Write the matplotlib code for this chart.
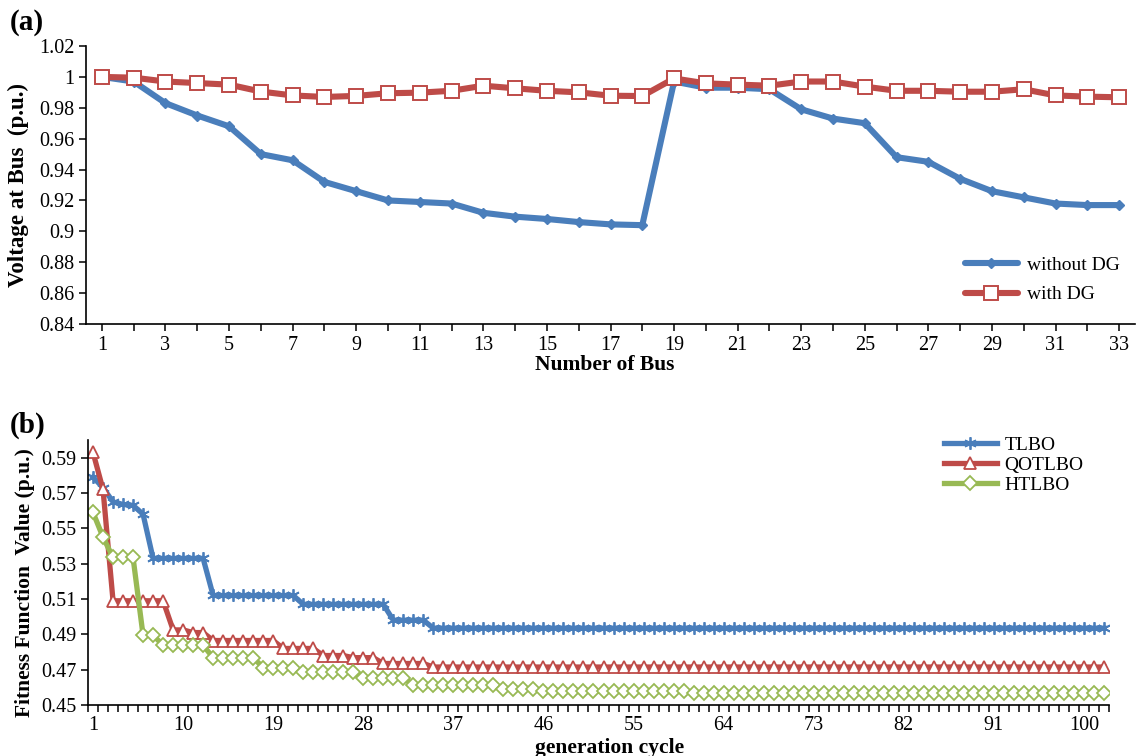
import matplotlib
matplotlib.use('Agg')
import matplotlib.pyplot as plt
from matplotlib.ticker import FuncFormatter, FixedLocator

plt.rcParams['font.family'] = ['Liberation Serif', 'DejaVu Serif']

# ---- panel (a) data ----
bus = list(range(1, 34))
without_dg = [1.000, 0.997, 0.983, 0.975, 0.968, 0.950, 0.946, 0.932, 0.926, 0.920,
              0.919, 0.918, 0.912, 0.9095, 0.908, 0.906, 0.9045, 0.904,
              0.997, 0.993, 0.993, 0.992,
              0.979, 0.973, 0.970, 0.948, 0.945, 0.934, 0.926, 0.922, 0.918, 0.917, 0.917]
with_dg = [1.000, 0.9995, 0.997, 0.996, 0.995, 0.9905, 0.988, 0.987, 0.9877, 0.9894,
           0.9898, 0.991, 0.9943, 0.9926, 0.991, 0.990, 0.9878, 0.9876,
           0.999, 0.9958, 0.995, 0.9943,
           0.997, 0.997, 0.9937, 0.991, 0.991, 0.9904, 0.9904, 0.992, 0.988, 0.9872, 0.9868]

# ---- panel (b) data ----
gen = list(range(1, 103))
tlbo = [0.579, 0.573, 0.565, 0.5635, 0.563, 0.558,
        0.533, 0.533, 0.533, 0.533, 0.533, 0.533,
        0.512, 0.512, 0.512, 0.512, 0.512, 0.512, 0.512, 0.512, 0.512,
        0.507, 0.507, 0.507, 0.507, 0.507, 0.507, 0.507, 0.507, 0.507,
        0.498, 0.498, 0.498, 0.498,
        0.4935, 0.4935, 0.4935, 0.4935, 0.4935, 0.4935, 0.4935, 0.4935, 0.4935, 0.4935,
        0.4935, 0.4935, 0.4935, 0.4935, 0.4935, 0.4935, 0.4935, 0.4935, 0.4935, 0.4935,
        0.4935, 0.4935, 0.4935, 0.4935, 0.4935, 0.4935, 0.4935, 0.4935, 0.4935, 0.4935,
        0.4935, 0.4935, 0.4935, 0.4935, 0.4935, 0.4935, 0.4935, 0.4935, 0.4935, 0.4935,
        0.4935, 0.4935, 0.4935, 0.4935, 0.4935, 0.4935, 0.4935, 0.4935, 0.4935, 0.4935,
        0.4935, 0.4935, 0.4935, 0.4935, 0.4935, 0.4935, 0.4935, 0.4935, 0.4935, 0.4935,
        0.4935, 0.4935, 0.4935, 0.4935, 0.4935, 0.4935, 0.4935, 0.4935]
qotlbo = [0.593, 0.572,
          0.509, 0.509, 0.509, 0.509, 0.509, 0.509,
          0.4925, 0.4925, 0.491, 0.491,
          0.4865, 0.4865, 0.4865, 0.4865, 0.4865, 0.4865, 0.4865,
          0.482, 0.482, 0.482, 0.482,
          0.478, 0.478, 0.478,
          0.4768, 0.4768, 0.4768,
          0.4735, 0.4735, 0.4735, 0.4735, 0.4735,
          0.4715, 0.4715, 0.4715, 0.4715, 0.4715, 0.4715, 0.4715, 0.4715, 0.4715, 0.4715,
          0.4715, 0.4715, 0.4715, 0.4715, 0.4715, 0.4715, 0.4715, 0.4715, 0.4715, 0.4715,
          0.4715, 0.4715, 0.4715, 0.4715, 0.4715, 0.4715, 0.4715, 0.4715, 0.4715, 0.4715,
          0.4715, 0.4715, 0.4715, 0.4715, 0.4715, 0.4715, 0.4715, 0.4715, 0.4715, 0.4715,
          0.4715, 0.4715, 0.4715, 0.4715, 0.4715, 0.4715, 0.4715, 0.4715, 0.4715, 0.4715,
          0.4715, 0.4715, 0.4715, 0.4715, 0.4715, 0.4715, 0.4715, 0.4715, 0.4715, 0.4715,
          0.4715, 0.4715, 0.4715, 0.4715, 0.4715, 0.4715, 0.4715, 0.4715]
htlbo = [0.559, 0.545,
         0.5335, 0.5335, 0.5335,
         0.4895, 0.4895,
         0.4838, 0.4838, 0.4838, 0.4838, 0.4838,
         0.4768, 0.4768, 0.4768, 0.4768, 0.4768,
         0.4712, 0.4712, 0.4712, 0.4712,
         0.4688, 0.4688, 0.4688, 0.4688, 0.4688, 0.4688,
         0.4652, 0.4652, 0.4652, 0.4652, 0.4652,
         0.4615, 0.4615, 0.4615, 0.4615, 0.4615, 0.4615, 0.4615, 0.4615, 0.4615,
         0.459, 0.459, 0.459, 0.459,
         0.4577, 0.4577, 0.4577, 0.4577, 0.4577, 0.4577, 0.4577, 0.4577, 0.4577, 0.4577,
         0.4577, 0.4577, 0.4577, 0.4577, 0.4577,
         0.4568, 0.4568, 0.4568, 0.4568, 0.4568, 0.4568, 0.4568, 0.4568, 0.4568, 0.4568,
         0.4568, 0.4568, 0.4568, 0.4568, 0.4568, 0.4568, 0.4568, 0.4568, 0.4568, 0.4568,
         0.4568, 0.4568, 0.4568, 0.4568, 0.4568, 0.4568, 0.4568, 0.4568, 0.4568, 0.4568,
         0.4568, 0.4568, 0.4568, 0.4568, 0.4568, 0.4568, 0.4568, 0.4568, 0.4568, 0.4568,
         0.4568, 0.4568]

blue = '#4A7EBB'
red = '#BE4B48'
green = '#98B954'

W, H = 1137, 756
fig = plt.figure(figsize=(W / 100, H / 100), dpi=100)


def box(x0, y0, x1, y1):
    # pixel box -> figure fraction
    return [x0 / W, 1 - y1 / H, (x1 - x0) / W, (y1 - y0) / H]


def style(ax):
    for s in ['top', 'right']:
        ax.spines[s].set_visible(False)
    for s in ['left', 'bottom']:
        ax.spines[s].set_linewidth(1.2)
        ax.spines[s].set_color('black')
    ax.tick_params(direction='out', width=1.1, length=5, labelsize=14.5, colors='black')


# ---------------- (a) ----------------
ax1 = fig.add_axes(box(86, 46, 1135, 324))
style(ax1)
ax1.plot(bus, without_dg, color=blue, lw=4.4, marker='D', ms=5.5,
         mfc=blue, mec=blue, label='without DG', solid_capstyle='round')
ax1.plot(bus, with_dg, color=red, lw=4.4, marker='s', ms=9.5,
         mfc='white', mec=red, mew=1.4, label='with DG', solid_capstyle='round')
ax1.set_xlim(0.5, 33.5)
ax1.set_ylim(0.84, 1.02)
ax1.set_yticks([0.84, 0.86, 0.88, 0.90, 0.92, 0.94, 0.96, 0.98, 1.00, 1.02])
ax1.yaxis.set_major_formatter(FuncFormatter(lambda v, p: '%g' % round(v, 2)))
ax1.set_xticks(bus)
ax1.set_xticklabels([str(b) if b % 2 == 1 else '' for b in bus])
ax1.tick_params(axis='x', pad=4)
ax1.legend(loc='center left', bbox_to_anchor=(965 / W, 1 - 280 / H),
           bbox_transform=fig.transFigure, frameon=False, fontsize=14,
           handlelength=2.7, handletextpad=0.5, labelspacing=0.6,
           borderpad=0, borderaxespad=0, numpoints=1)

fig.text(10 / W, 1 - 22 / H, '(a)', fontsize=21, fontweight='bold', va='center', ha='left')
fig.text(605 / W, 1 - 370 / H, 'Number of Bus', fontsize=15.5, fontweight='bold',
         ha='center', va='baseline')
fig.text(18 / W, 1 - 185 / H, 'Voltage at Bus  (p.u.)', fontsize=16.5, fontweight='bold',
         rotation=90, ha='center', va='center')

# ---------------- (b) ----------------
ax2 = fig.add_axes(box(88, 440, 1109, 705))
style(ax2)
ax2.plot(gen, tlbo, color=blue, lw=3.8, marker=(6, 2, 0), ms=9,
         mfc=blue, mec=blue, mew=1.3, label='TLBO')
ax2.plot(gen, qotlbo, color=red, lw=3.8, marker='^', ms=8.5,
         mfc='white', mec=red, mew=1.3, label='QOTLBO')
ax2.plot(gen, htlbo, color=green, lw=3.8, marker='D', ms=7.5,
         mfc='white', mec=green, mew=1.3, label='HTLBO')
ax2.set_xlim(0.5, 102.5)
ax2.set_ylim(0.45, 0.60)
ax2.set_yticks([0.45, 0.47, 0.49, 0.51, 0.53, 0.55, 0.57, 0.59])
ax2.yaxis.set_major_formatter(FuncFormatter(lambda v, p: '%.2f' % v))
ax2.set_xticks([1, 10, 19, 28, 37, 46, 55, 64, 73, 82, 91, 100])
ax2.xaxis.set_minor_locator(FixedLocator([g - 0.5 for g in gen] + [102.5]))
ax2.tick_params(axis='x', which='major', length=0, pad=8)
ax2.tick_params(axis='x', which='minor', direction='out', length=5, width=1.1)
ax2.legend(loc='center left', bbox_to_anchor=(944 / W, 1 - 465 / H),
           bbox_transform=fig.transFigure, frameon=False, fontsize=14,
           handlelength=2.7, handletextpad=0.4, labelspacing=0.12,
           borderpad=0, borderaxespad=0, numpoints=1)

fig.text(10 / W, 1 - 425 / H, '(b)', fontsize=21, fontweight='bold', va='center', ha='left')
fig.text(610 / W, 1 - 753 / H, 'generation cycle', fontsize=15.5, fontweight='bold',
         ha='center', va='baseline')
fig.text(25 / W, 1 - 583 / H, 'Fitness Function  Value (p.u.)', fontsize=15.5,
         fontweight='bold', rotation=90, ha='center', va='center')

fig.savefig('out.png', dpi=100)
